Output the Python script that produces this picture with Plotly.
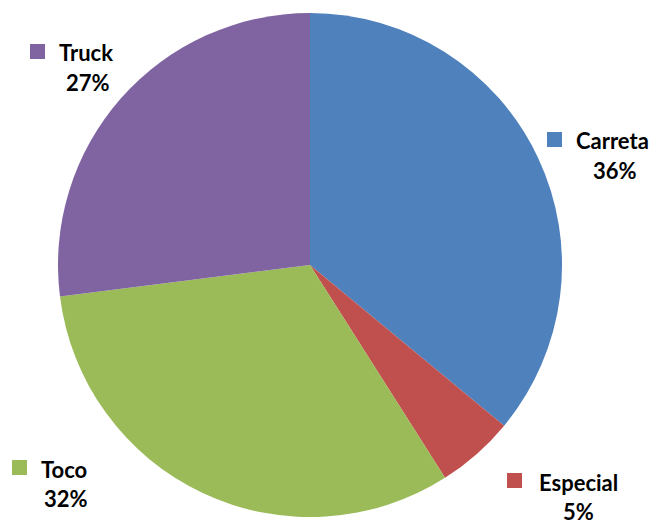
import plotly.graph_objects as go

labels = ["Carreta", "Especial", "Toco", "Truck"]
values = [36, 5, 32, 27]
colors = ["#4F81BD", "#C0504D", "#9BBB59", "#8064A2"]

W, H = 660, 524

fig = go.Figure()

fig.add_trace(go.Pie(
    labels=labels,
    values=values,
    sort=False,
    direction="clockwise",
    rotation=0,
    marker=dict(colors=colors, line=dict(width=0)),
    textinfo="none",
    hoverinfo="label+percent",
    showlegend=False,
    domain=dict(x=[(310 - 252) / W, (310 + 252) / W],
                y=[1 - 517 / H, 1 - 13 / H]),
))

# label positions (pixels): square box, name start, percent centre
label_pos = {
    "Truck":    dict(sq=(30, 44), name=(57, 52), pct=(88, 83)),
    "Carreta":  dict(sq=(547, 132), name=(574, 140), pct=(615, 170)),
    "Especial": dict(sq=(507, 473), name=(537, 482), pct=(578, 511)),
    "Toco":     dict(sq=(12, 460), name=(39, 469), pct=(66, 498)),
}

total = sum(values)
for lab, val, col in zip(labels, values, colors):
    p = label_pos[lab]
    sx, sy = p["sq"]
    fig.add_shape(type="rect", xref="paper", yref="paper",
                  x0=sx / W, x1=(sx + 15) / W,
                  y0=1 - (sy + 15) / H, y1=1 - sy / H,
                  fillcolor=col, line=dict(width=0))
    nx, ny = p["name"]
    fig.add_annotation(x=nx / W, y=1 - ny / H, xref="paper", yref="paper",
                       text=f"<b>{lab}</b>", showarrow=False,
                       xanchor="left", yanchor="middle",
                       font=dict(family="Lato", size=22, color="#000000"))
    px, py = p["pct"]
    fig.add_annotation(x=px / W, y=1 - py / H, xref="paper", yref="paper",
                       text=f"<b>{round(val / total * 100)}%</b>", showarrow=False,
                       xanchor="center", yanchor="middle",
                       font=dict(family="Lato", size=22, color="#000000"))

fig.update_layout(
    width=W,
    height=H,
    margin=dict(l=0, r=0, t=0, b=0),
    paper_bgcolor="white",
    plot_bgcolor="white",
)

# drop the default page margin so the figure fills the window
fig.write_html("out.html", config={"displayModeBar": False},
               post_script="document.body.style.margin = '0';")
